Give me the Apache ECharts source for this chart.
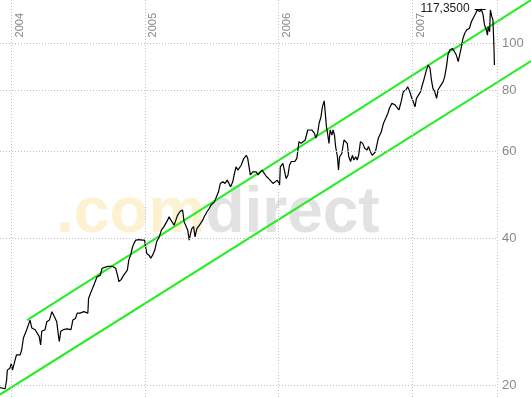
<!DOCTYPE html>
<html>
<head>
<meta charset="utf-8">
<script src="https://cdn.jsdelivr.net/npm/echarts@6/dist/echarts.min.js"></script>
<style>
  html, body { margin: 0; padding: 0; background: #fff; }
  #main { width: 531px; height: 397px; }
</style>
</head>
<body>
<div id="main"></div>
<script>
// Kursverlauf
var priceDates = [
  '2003-12-02','2003-12-16','2003-12-20','2003-12-22','2003-12-29','2004-01-02','2004-01-05','2004-01-12','2004-01-16','2004-01-26',
  '2004-01-30','2004-02-04','2004-02-08','2004-02-13','2004-02-22','2004-02-27','2004-03-07','2004-03-11','2004-03-18','2004-03-22',
  '2004-03-25','2004-04-03','2004-04-08','2004-04-15','2004-04-22','2004-04-26','2004-05-01','2004-05-05','2004-05-10','2004-05-12',
  '2004-05-16','2004-05-23','2004-06-02','2004-06-13','2004-06-18','2004-06-25','2004-06-30','2004-07-08','2004-07-18','2004-07-29',
  '2004-07-31','2004-08-05','2004-08-14','2004-08-23','2004-09-01','2004-09-06','2004-09-21','2004-10-05','2004-10-13','2004-10-18',
  '2004-10-22','2004-10-28','2004-11-04','2004-11-14','2004-11-18',
  '2004-11-23','2004-11-28','2004-12-02','2004-12-07','2004-12-11','2004-12-16','2004-12-24','2004-12-31','2005-01-06','2005-01-12',
  '2005-01-17','2005-01-22','2005-01-28','2005-02-02','2005-02-09','2005-02-15','2005-02-22','2005-02-27','2005-03-04','2005-03-08',
  '2005-03-13','2005-03-17','2005-03-22','2005-03-27','2005-03-31','2005-04-07','2005-04-14','2005-04-18','2005-04-23','2005-04-28',
  '2005-05-02','2005-05-05','2005-05-09','2005-05-14','2005-05-18','2005-05-23','2005-05-30','2005-06-03','2005-06-08','2005-06-12',
  '2005-06-20','2005-06-26','2005-07-01','2005-07-05','2005-07-10','2005-07-14','2005-07-21','2005-07-26','2005-08-02','2005-08-08',
  '2005-08-14','2005-08-17','2005-08-23','2005-08-29','2005-09-03','2005-09-07','2005-09-12','2005-09-16','2005-09-21','2005-09-28',
  '2005-10-05','2005-10-09','2005-10-14','2005-10-16','2005-10-23','2005-10-27','2005-11-01','2005-11-06','2005-11-10','2005-11-17',
  '2005-11-22','2005-11-29','2005-12-05','2005-12-10','2005-12-17','2005-12-21','2005-12-29','2006-01-04','2006-01-06','2006-01-13',
  '2006-01-18','2006-01-22','2006-01-27','2006-01-31','2006-02-05','2006-02-14','2006-02-20','2006-02-26','2006-03-04','2006-03-08',
  '2006-03-15','2006-03-22','2006-03-26','2006-04-02','2006-04-09','2006-04-13','2006-04-18','2006-04-22','2006-04-27','2006-05-01',
  '2006-05-06','2006-05-08','2006-05-12','2006-05-15','2006-05-19','2006-05-22','2006-05-27','2006-05-30','2006-06-03','2006-06-06',
  '2006-06-11','2006-06-14','2006-06-17','2006-06-23','2006-06-29','2006-07-03','2006-07-08','2006-07-12','2006-07-17','2006-07-22',
  '2006-07-26','2006-07-31','2006-08-04','2006-08-08','2006-08-13','2006-08-19','2006-08-25','2006-08-31','2006-09-04','2006-09-09',
  '2006-09-14','2006-09-18','2006-09-23','2006-09-27','2006-10-01','2006-10-09','2006-10-15','2006-10-21','2006-10-27','2006-10-31',
  '2006-11-07','2006-11-16','2006-11-20','2006-11-26','2006-12-02','2006-12-08','2006-12-15','2006-12-20','2006-12-26','2006-12-30',
  '2007-01-04','2007-01-09','2007-01-13','2007-01-18','2007-01-24','2007-01-29','2007-02-02','2007-02-08','2007-02-14','2007-02-19',
  '2007-02-23','2007-02-27','2007-03-04','2007-03-09','2007-03-13','2007-03-18','2007-03-22','2007-03-27','2007-03-31','2007-04-05',
  '2007-04-09','2007-04-14','2007-04-21','2007-04-27','2007-05-02','2007-05-07','2007-05-11','2007-05-16','2007-05-20','2007-05-25',
  '2007-05-30','2007-06-07','2007-06-12','2007-06-17','2007-06-24','2007-06-28','2007-07-05','2007-07-09','2007-07-14','2007-07-18',
  '2007-07-23','2007-07-26','2007-07-28','2007-08-01','2007-08-03','2007-08-07','2007-08-10','2007-08-13','2007-08-14'
];
var priceValues = [
  19.8,19.7,20.5,21.5,21.7,22.2,21.5,22.5,23.1,23.1,
  23.6,25.0,25.2,26.0,27.2,26.2,26.0,25.8,25.2,24.2,
  25.8,26.0,27.0,27.2,28.3,28.1,27.4,27.0,25.2,24.6,
  25.8,26.0,26.1,26.0,27.2,27.4,28.1,28.1,28.3,28.1,
  30.1,30.8,32.0,33.3,33.6,34.7,35.0,35.0,34.7,33.6,
  32.6,32.9,33.6,34.4,36.1,
  36.9,38.3,39.0,39.6,39.3,39.7,39.6,39.6,37.2,36.9,
  36.4,36.9,37.8,39.3,40.2,41.5,42.2,42.5,43.5,44.2,
  43.5,43.8,42.5,42.8,44.5,45.3,45.6,43.2,42.8,41.5,
  39.6,40.6,41.8,42.2,40.2,41.8,42.5,42.8,43.5,44.2,
  45.3,46.0,46.7,47.1,47.4,47.8,49.7,51.7,52.1,51.7,
  52.5,52.1,50.9,52.1,54.3,55.9,55.05,55.5,56.3,58.1,
  59.0,58.1,55.05,53.8,54.6,54.3,54.6,53.8,54.3,55.05,
  54.6,53.4,52.9,52.9,51.7,52.1,52.5,51.3,55.9,56.8,
  56.3,52.9,53.8,56.3,57.3,57.3,58.1,62.9,62.4,62.0,
  63.4,66.45,66.95,66.45,65.5,64.0,65.5,68.6,70.7,74.1,
  76.2,75.8,67.5,65.5,62.4,66.45,64.9,66.45,64.9,61.5,
  58.6,55.05,58.6,59.5,63.4,63.9,62.4,58.6,57.3,59.0,
  57.7,58.6,57.7,59.0,62.9,62.4,60.9,60.5,61.5,60.0,
  59.0,58.6,60.0,62.0,64.0,65.9,68.6,70.2,71.9,73.6,
  75.3,74.7,75.3,73.0,75.8,79.5,80.2,81.4,79.5,77.7,
  76.0,74.1,77.1,77.7,79.5,82.1,84.0,87.4,90.2,88.8,
  84.0,80.8,79.5,77.1,80.2,81.4,82.1,83.4,85.3,89.5,
  94.5,96.8,97.5,96.0,94.5,91.6,94.5,98.3,102.2,104.7,
  106.3,107.2,110.5,111.4,115.0,116.8,115.9,117.35,114.1,108.8,
  106.3,103.8,108.0,105.5,116.8,113.2,111.4,96.8,90.2
];

// Trendkanal (gruene Linien)
var upperDates = ['2004-02-14', '2007-11-22'];
var upperValues = [27.2, 122.4];
var lowerDates = ['2003-12-02', '2007-11-22'];
var lowerValues = [19.17, 91.9];

// Achsen / Raster
var xMin = '2003-12-02';
var xBorder = '2007-08-21';   // rechter Rand des Kursbereichs
var xMax = '2007-11-22';      // Bildrand (Kanal laeuft bis hier)
var yMin = 18.95;
var yMax = 122.4;
var yTicks = [20, 40, 60, 80, 100];
var yearTicks = ['2004-01-01', '2005-01-01', '2006-01-01', '2007-01-01'];
var yearNames = ['2004', '2005', '2006', '2007'];

// Hoechstkurs-Markierung
var maxValue = 117.35;
var maxText = '117,3500';
var maxFrom = '2007-06-21';
var maxTo = '2007-07-21';

var myChart = echarts.init(document.getElementById('main'));

var gridStyle = { color: '#c0c0c0', width: 1, type: [1, 2] };

var gridLines = [];
for (var i = 0; i < yTicks.length; i++) {
  gridLines.push([
    { coord: [xMin, yTicks[i]], lineStyle: gridStyle,
      label: { show: true, position: 'end', formatter: String(yTicks[i]), color: '#888', fontSize: 13, fontFamily: 'Liberation Sans', distance: 5 } },
    { coord: [xBorder, yTicks[i]] }
  ]);
}
for (var j = 0; j < yearTicks.length; j++) {
  gridLines.push({
    xAxis: yearTicks[j],
    lineStyle: gridStyle,
    label: { show: true, position: 'insideEndBottom', formatter: yearNames[j], color: '#888', fontSize: 11, fontFamily: 'Liberation Sans', distance: [13, 3] }
  });
}
// rechter Rand
gridLines.push({ xAxis: xBorder, lineStyle: gridStyle, label: { show: false } });

function pairs(ds, vs) {
  return ds.map(function (d, k) { return [d, vs[k]]; });
}

var option = {
  animation: false,
  backgroundColor: '#fff',
  grid: { left: 0, right: 0, top: 0, bottom: 0 },
  xAxis: { type: 'time', min: xMin, max: xMax, show: false },
  yAxis: { type: 'log', min: yMin, max: yMax, show: false },
  graphic: [{
    type: 'text',
    left: 56,
    top: 182,
    z: -10,
    silent: true,
    style: {
      text: '{a|.com}{b|direct}',
      rich: {
        a: { fill: '#fcf2d2', fontSize: 64, fontWeight: 'bold', fontFamily: 'Liberation Sans' },
        b: { fill: '#e2e2e2', fontSize: 64, fontWeight: 'bold', fontFamily: 'Liberation Sans' }
      }
    }
  }],
  series: [
    {
      name: 'raster',
      type: 'line',
      data: [[xMin, yMin]],
      symbol: 'none',
      z: 1,
      silent: true,
      markLine: { silent: true, symbol: 'none', animation: false, data: gridLines }
    },
    {
      name: 'oben',
      type: 'line',
      data: pairs(upperDates, upperValues),
      symbol: 'none',
      z: 3,
      lineStyle: { color: '#22ee22', width: 2 }
    },
    {
      name: 'unten',
      type: 'line',
      data: pairs(lowerDates, lowerValues),
      symbol: 'none',
      z: 3,
      lineStyle: { color: '#22ee22', width: 2 }
    },
    {
      name: 'kurs',
      type: 'line',
      data: pairs(priceDates, priceValues),
      symbol: 'none',
      z: 4,
      lineStyle: { color: '#000', width: 1.2 },
      markLine: {
        silent: true,
        symbol: 'none',
        animation: false,
        data: [[
          { coord: [maxFrom, maxValue] },
          { coord: [maxTo, maxValue] }
        ]],
        lineStyle: { color: '#000', width: 1, type: 'solid' },
        label: { show: true, position: 'start', formatter: maxText, color: '#222', fontSize: 12, fontFamily: 'Liberation Sans', distance: 5 }
      }
    }
  ]
};

myChart.setOption(option);
</script>
</body>
</html>
